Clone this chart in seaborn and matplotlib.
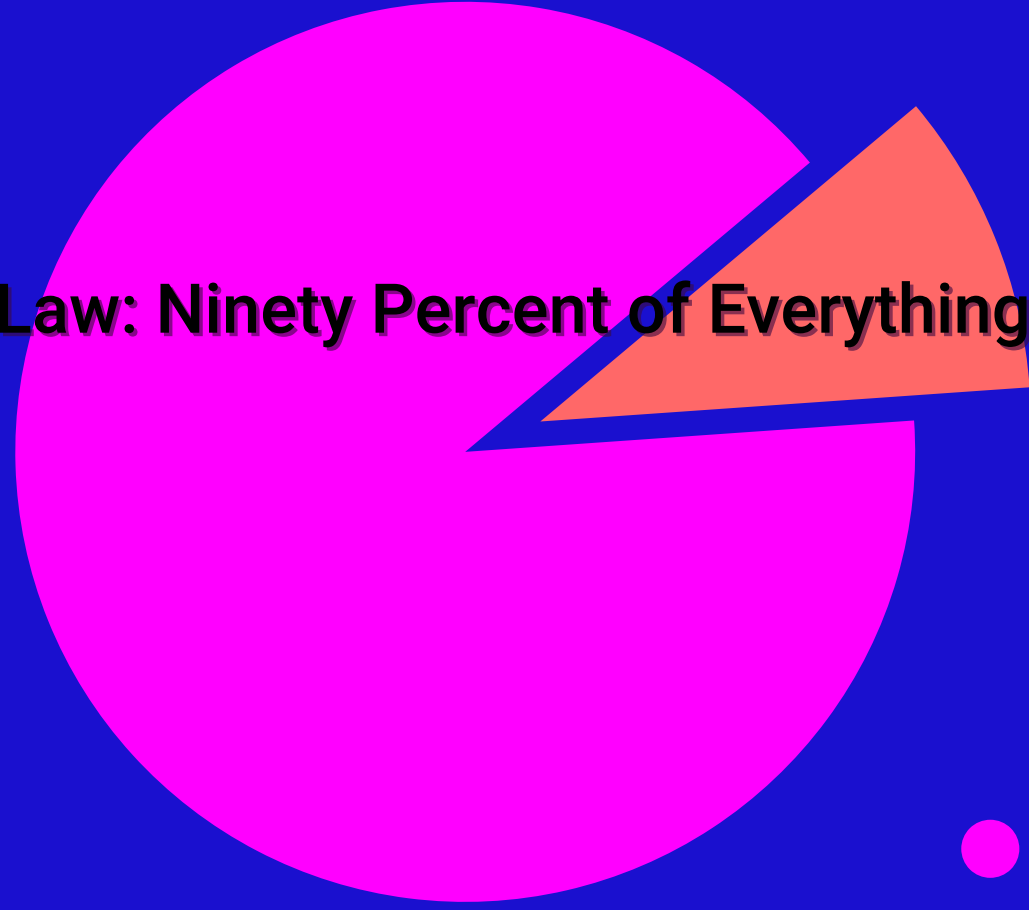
import matplotlib
matplotlib.use("Agg")
import matplotlib.pyplot as plt
import matplotlib.patheffects as pe
import seaborn as sns

# Data
labels = ["Crap", "Everything else"]
shares = [10, 90]
colors = ["#ff6868", "#ff00ff"]
title = "Sturgeon's Law: Ninety Percent of Everything is Crap"

sns.set_style("white")
plt.rcParams["font.family"] = ["Roboto", "DejaVu Sans"]

bg = "#1a10cf"
fig = plt.figure(figsize=(10.29, 9.10), dpi=100, facecolor=bg)
ax = fig.add_axes([0, 0, 1, 1])
ax.set_facecolor(bg)

wedges, _ = ax.pie(shares, colors=colors, startangle=4, counterclock=True,
                   explode=[0.18, 0], radius=1.0,
                   wedgeprops=dict(linewidth=0))
wedges[0].set_radius(1.09)

# small dot bottom right
sns.scatterplot(x=[1.167], y=[-0.882], s=1750, color="#ff00ff",
                edgecolor="none", ax=ax, legend=False)

ax.set_xlim(-1.034, 1.253)
ax.set_ylim(-1.018, 1.004)
ax.set_aspect("equal", adjustable="datalim")
ax.axis("off")

ax.text(0.444, 0.655, title, transform=ax.transAxes, ha="center", va="center",
        fontsize=49.5, fontweight="medium", color="black",
        path_effects=[pe.withSimplePatchShadow(offset=(2.5, -2.5), shadow_rgbFace="#3a0a40", alpha=0.6)])

fig.savefig("out.png", dpi=100, facecolor=bg)
